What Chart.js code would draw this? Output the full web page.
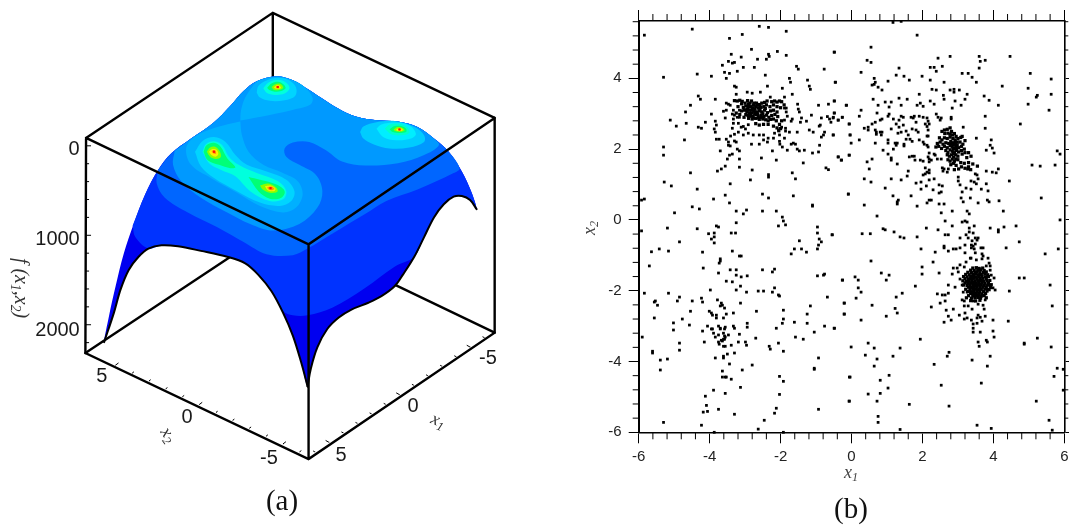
<!DOCTYPE html>
<html>
<head>
<meta charset="utf-8">
<title>Surface and sample points</title>
<script src="https://cdn.jsdelivr.net/npm/chart.js@4"></script>
<style>
    html, body { margin: 0; padding: 0; background: #fff; overflow: hidden; }
    canvas { position: absolute; top: 0; }
    #surfaceChart { left: 0; }
    #scatterChart { left: 560px; }
</style>
</head>
<body>
<canvas id="surfaceChart" width="520" height="529"></canvas>
<canvas id="scatterChart" width="509" height="529"></canvas>
<script>
// ---- panel (a): outlines, in projection-plane units ----
const rightEdge = [[830,220],[880,232],[930,262],[980,295],[1030,325],[1080,345],[1130,353],[1200,358],[1260,375],[1310,410],[1355,450],[1395,510],[1425,575],[1440,625]];
const frontRightCurve = [[1440,625],[1420,597],[1395,585],[1370,587],[1340,610],[1310,650],[1280,710],[1250,770],[1215,825],[1190,860],[1150,890],[1110,910],[1060,930],[1020,955],[985,990],[955,1045],[935,1110],[925,1165]];
const frontLeftCurve = [[925,1165],[905,1090],[880,1010],[850,940],[815,875],[775,825],[735,790],[680,770],[600,752],[530,738],[480,735],[440,745],[410,770],[380,810],[355,870],[335,940],[305,1030]];
const leftEdge = [[305,1030],[320,950],[340,860],[365,760],[395,670],[430,580],[470,505],[510,455],[570,410],[640,360],[690,310],[730,265],[770,235],[830,220]];

const band1 = [[392,675],[400,710],[440,745],[480,735],[530,738],[600,752],[680,770],[735,790],[775,825],[815,875],[850,935],[880,948],[925,948],[1000,925],[1100,865],[1190,800],[1250,770],[1280,710],[1310,650],[1340,610],[1370,587],[1395,585],[1420,597],[1440,625],[1425,575],[1395,510],[1355,450],[1310,410],[1260,375],[1200,358],[1130,353],[1080,345],[1030,325],[980,295],[930,262],[880,232],[830,220],[770,235],[730,265],[690,310],[640,360],[570,410],[510,455],[470,505],[430,580],[392,675]];
const band2 = [[470,505],[465,545],[490,590],[560,635],[650,680],[730,725],[800,762],[880,765],[925,745],[1000,700],[1100,640],[1165,600],[1260,565],[1370,515],[1388,500],[1355,450],[1310,410],[1260,375],[1200,358],[1130,353],[1080,345],[1030,325],[980,295],[930,262],[880,232],[830,220],[770,235],[730,265],[690,310],[640,360],[570,410],[510,455],[470,505]];
const band3 = [[520,448],[515,490],[540,540],[600,590],[680,635],[750,670],[820,690],[900,670],[955,620],[970,570],[950,520],[900,490],[860,465],[855,440],[880,422],[930,420],[980,445],[1030,480],[1100,492],[1200,485],[1280,460],[1325,430],[1310,410],[1260,375],[1200,358],[1130,353],[1080,345],[1030,325],[980,295],[930,262],[880,232],[830,220],[770,235],[730,265],[690,310],[640,360],[570,410],[520,448]];

const topLobe4 = [[720,355],[722,325],[735,285],[770,237],[790,229],[835,222],[880,232],[915,252],[940,285],[935,305],[890,320],[810,338],[720,355]];
const topLobe5 = [[770,270],[775,250],[800,233],[835,225],[870,233],[890,255],[887,280],[855,293],[810,295],[780,285],[770,270]];
const topLobe6 = [[790,257],[805,240],[835,231],[860,240],[870,257],[855,273],[825,277],[800,270],[790,257]];
const topLobe7 = [[802,255],[815,242],[835,237],[852,245],[858,257],[845,265],[825,267],[808,262],[802,255]];
const topLobe8 = [[815,253],[825,245],[838,242],[848,248],[850,257],[838,262],[822,261],[815,253]];
const topLobe9 = [[823,253],[833,247],[842,251],[843,257],[833,259],[825,257],[823,253]];
const topLobe10 = [[828,253],[835,250],[839,253],[835,256],[828,253]];

const leftLobe4 = [[720,358],[650,375],[580,405],[555,440],[570,490],[630,530],[710,575],[780,615],[850,635],[890,620],[910,580],[895,540],[850,515],[790,490],[745,450],[725,400],[720,358]];
const leftLobe5 = [[582,450],[605,417],[640,405],[675,420],[705,460],[740,490],[800,510],[860,535],[885,570],[875,600],[840,615],[780,605],[710,570],[640,530],[600,495],[582,450]];
const leftLobe6 = [[605,450],[615,427],[640,418],[665,430],[685,465],[715,490],[770,515],[835,540],[860,570],[850,595],[810,600],[750,570],[705,525],[660,505],[625,485],[605,450]];
const leftPeak7 = [[608,450],[617,430],[640,423],[660,435],[680,470],[705,497],[690,500],[655,490],[620,475],[608,450]];
const leftPeak8 = [[618,450],[628,437],[643,435],[658,450],[660,467],[645,472],[628,465],[618,450]];
const leftPeak9 = [[625,450],[635,442],[648,445],[653,457],[645,465],[632,460],[625,450]];
const leftPeak10 = [[632,448],[640,445],[646,451],[645,457],[637,455],[632,448]];
const lowPeak7 = [[745,527],[780,535],[830,550],[855,570],[845,590],[810,593],[775,570],[745,527]];
const lowPeak8 = [[780,553],[805,547],[830,560],[833,572],[810,575],[788,565],[780,553]];
const lowPeak9 = [[795,555],[812,553],[827,562],[823,570],[805,568],[795,555]];
const lowPeak10 = [[802,558],[815,556],[824,563],[817,567],[805,564],[802,558]];

const rightLobe4 = [[1085,390],[1095,373],[1135,360],[1195,357],[1255,377],[1280,400],[1280,420],[1235,437],[1175,440],[1125,427],[1095,410],[1085,390]];
const rightLobe5 = [[1135,380],[1150,367],[1195,361],[1235,370],[1255,395],[1240,410],[1195,415],[1155,405],[1135,380]];
const rightLobe6 = [[1160,380],[1175,367],[1205,365],[1230,377],[1235,393],[1210,400],[1180,397],[1160,380]];
const rightLobe7 = [[1175,382],[1190,372],[1210,372],[1225,380],[1225,390],[1205,393],[1185,390],[1175,382]];
const rightLobe8 = [[1187,382],[1200,375],[1215,378],[1220,385],[1205,389],[1192,387],[1187,382]];
const rightLobe9 = [[1195,382],[1205,378],[1215,382],[1210,387],[1197,386],[1195,382]];
const rightLobe10 = [[1200,382],[1207,380],[1211,383],[1205,385],[1200,382]];
const peakCentres = [[834,253],[640,450],[812,561],[1205,382]];

// box corners on the projection plane
const boxBackEdges = [[[250,408],[819,27],[1495,347]], [[819,27],[819,225]], [[248,1063],[690,770]], [[1495,1001],[1190,855]]];
const boxFrontEdges = [[[250,408],[928,732],[1495,347]], [[250,408],[248,1063],[928,1386],[1495,1001],[1495,347]], [[928,732],[928,1386]]];

const fTicks = [0,200,400,600,800,1000,1200,1400,1600,1800,2000,2200];
const x2Ticks = [5,4,3,2,1,0,-1,-2,-3,-4,-5,-6];
const x1Ticks = [6,5,4,3,2,1,0,-1,-2,-3,-4,-5,-6];

const upperLeft = [[-5.84,5.22],[-4.49,5.39],[-2.6,5.47],[-2.34,5.44],[-1.84,5.33],[-3.44,5.13],[-3.08,5.24],[-2.82,4.82],[-2.09,4.76],[-3.39,4.68],[-3.11,4.6],[-2.34,4.68],[-2.32,4.62],[-1.84,4.65],[-2.65,4.54],[-2.4,4.54],[-3.47,4.48],[-3.36,4.43],[-3.3,4.45],[-3.64,4.37],[-3.05,4.31],[-2.74,4.31],[-0.48,4.74],[-1.55,4.34],[-1.5,4.26],[-0.77,4.26],[-3.58,4.17],[-3.44,4.14],[-3.22,4.2],[-4.35,4.12],[-3.95,4.06],[-5.3,4.03],[-3.53,4],[-2.43,4.09],[-1.75,4],[-1.72,3.89],[-1.24,3.95],[-0.45,3.89],[-1.19,3.78],[-1.16,3.69],[-3.3,3.78],[-3.25,3.75],[-2.37,3.78],[-1.95,3.72],[-3.25,3.55],[-2.94,3.61],[-2.8,3.58],[-2.57,3.61],[-1.67,3.55],[-4.32,3.5],[-4.26,3.41],[-3.84,3.41],[-1.89,3.47],[-2.29,3.47],[-0.48,3.36],[-4.54,3.24],[-0.93,3.24],[-0.65,3.27],[-0.14,3.24],[-1.52,3.27],[-1.5,3.13],[-1.47,3.05],[-4.68,3.05],[-3.95,2.99],[-3.61,3.07],[-3.53,3.1],[-0.48,3.02],[-1.13,2.96],[-5.11,2.82],[-4.66,2.73],[-4.94,2.65],[-4.32,2.62],[-4.23,2.59],[-4.12,2.76],[-3.84,2.79],[-3.81,2.68],[-3.87,2.57],[-3.84,2.48],[-4.71,2.26],[-3.81,2.28],[-3.73,2.28],[-5.3,2.06],[-5.3,1.83],[-3.7,1.95],[-3.53,2.28],[-3.47,2.2],[-3.47,2.11],[-3.42,2.09],[-3.3,2.23],[-3.25,2.2],[-3.22,2],[-3.16,1.95],[-3.44,1.83],[-3.36,1.86],[-3.5,1.72],[-3.16,1.72],[-2.54,1.75],[-2.12,1.69],[-1.36,1.61],[-3.56,1.52],[-3.16,1.49],[-3.67,1.44],[-3.78,1.38],[-4.54,1.33],[-2.8,1.41],[-2.34,1.28],[-2.34,1.21],[-2.85,1.13],[-1.67,1.33],[-1.58,1.16],[-5.28,1.07],[-5.08,0.96],[-3.42,1.02],[-4.35,0.87],[-3.56,0.7],[-2.51,0.73],[-2.34,0.62],[-1.64,0.68],[-3.89,0.59],[-0.09,0.73],[-5.92,0.56],[-5.84,0.59],[-3.44,0.48],[-4.49,0.37],[-4.29,0.31],[-1.1,0.42],[-1.1,0.39],[-4.99,0.2],[-3.25,0.25],[-3.05,0.17],[-2.96,0.28],[-2.51,0.25],[-2.12,0.25],[-1.95,0.08],[-1.92,-0.03],[-1.86,-0.14],[-2.06,-0.17],[-3.25,-0.08],[-3.81,-0.17],[-3.75,-0.2],[-5.19,-0.23],[-4.35,-0.25],[-5.92,-0.31],[-0.96,-0.2],[-0.96,-0.37],[-3.39,-0.37],[-3.27,-0.37],[-4.03,-0.39],[-3.87,-0.37],[-3.87,-0.48],[-3.95,-0.54],[-0.91,-0.54],[-0.54,-0.42]];
const upperLeftRing = [[-3.53,3.3],[-3.47,3.27],[-3.42,3.24],[-3.33,3.1],[-3.16,3.1],[-3.36,2.99],[-3.3,2.96],[-3.22,2.9],[-3.56,2.88],[-3.33,2.85],[-3.16,2.9],[-3.33,2.73],[-3.19,2.73],[-3.05,2.64],[-3.11,2.62],[-3.36,2.59],[-2.91,2.69],[-2.99,2.57],[-3.19,2.48],[-2.91,2.45],[-3.05,2.4],[-3.3,2.42],[-3.41,2.37],[-2.77,2.4],[-2.6,2.4],[-2.48,2.4],[-2.35,2.31],[-2.48,2.26],[-2.37,2.2],[-2.17,2.45],[-2.06,2.54],[-1.97,2.62],[-1.86,2.59],[-2.2,2.31],[-2.03,2.4],[-1.86,2.51],[-1.75,2.48],[-2.03,2.22],[-1.89,2.31],[-1.53,2.48],[-2.82,2.14],[-2.6,2.14],[-2.02,2.14],[-1.95,2.06],[-2.23,1.95],[-1.81,1.97],[-1.7,2.14],[-1.64,2.17],[-1.58,2.14],[-1.53,2],[-1.47,1.95],[-1.33,1.97],[-1.1,1.89],[-0.93,1.92],[-0.9,2.11],[-0.51,2.4],[-0.79,2.4],[-0.85,2.34],[-0.76,2.48],[-1.19,2.54],[-1.08,2.48],[-0.88,2.68],[-0.91,2.65],[-0.85,2.88],[-0.68,2.92],[-0.62,2.85],[-0.51,2.9],[-0.37,2.82],[-0.26,2.9],[-0.06,2.71],[-1.41,2.88],[-1.27,2.79],[-1.44,2.76],[-1.7,2.79],[-1.67,2.85],[-1.89,2.82],[-1.84,3.05],[-1.81,2.93],[-1.89,3.16],[-1.84,3.16],[-0.72,1.47],[-0.65,1.42],[-0.37,1.78],[-0.28,1.69],[-0.06,1.83],[-0.04,2.4]];
const upperLeftCore = [[-3.3,3.37],[-3.22,3.36],[-3.15,3.38],[-3.08,3.35],[-3,3.3],[-2.93,3.37],[-2.9,3.28],[-2.82,3.36],[-2.76,3.25],[-2.68,3.3],[-2.6,3.26],[-2.53,3.3],[-2.45,3.32],[-2.38,3.36],[-2.25,3.34],[-2.17,3.36],[-2.1,3.33],[-2.03,3.36],[-1.97,3.34],[-3.05,3.18],[-2.98,3.22],[-2.92,3.16],[-2.85,3.2],[-2.78,3.17],[-2.7,3.2],[-2.62,3.16],[-2.55,3.18],[-2.47,3.2],[-2.4,3.25],[-2.3,3.2],[-2.2,3.25],[-2.1,3.2],[-2,3.17],[-1.9,3.25],[-3.1,3.08],[-3.02,3.1],[-2.95,3.05],[-2.88,3.1],[-2.82,3.03],[-2.75,3.08],[-2.68,3.05],[-2.6,3.08],[-2.53,3.05],[-2.45,3.1],[-2.37,3.03],[-2.28,3.08],[-2.2,3.1],[-2.1,3.05],[-2.98,2.98],[-2.92,2.95],[-2.85,2.98],[-2.78,2.93],[-2.7,2.98],[-2.63,2.93],[-2.55,2.96],[-2.47,2.92],[-2.4,2.96],[-2.33,2.9],[-2.25,2.95],[-2.16,2.98],[-2.08,2.92],[-2.9,2.87],[-2.8,2.85],[-2.7,2.87],[-2.6,2.84],[-2.5,2.85],[-2.42,2.83],[-2.35,2.8],[-2.28,2.84],[-2.2,2.85],[-2.12,2.8],[-3.03,2.9],[-3.15,2.98],[-3.25,3.02],[-3.2,3.2],[-3.1,3.28],[-2.7,2.72],[-2.6,2.68],[-2.48,2.7],[-2.35,2.7],[-2.2,2.65],[-2.1,2.6],[-2.03,2.7],[-1.97,2.8],[-2.05,2.52],[-2,2.58],[-2.88,3.02],[-2.8,3.12],[-2.72,3.13],[-2.65,3],[-2.58,3.12],[-2.5,3],[-2.43,3.15],[-2.9,3.22],[-2.75,3.3],[-2.86,3.3],[-2.95,3.12],[-2.66,3.24],[-2.58,3.22],[-2.73,3.01],[-2.9,2.92],[-2.62,2.88],[-2.54,2.9],[-2.76,2.88],[-2.82,2.93]];
const upperRight = [[1.17,5.58],[1.4,5.61],[1.85,5.22],[0.55,4.88],[-0.49,4.74],[0.44,4.51],[0.55,4.45],[2.44,4.57],[2.78,4.62],[3.6,4.62],[3.63,4.48],[3.77,4.51],[4.47,4.62],[2.22,4.31],[2.33,4.31],[2.56,4.34],[1.34,4.29],[2.39,4.2],[3.6,4.29],[0.27,4.17],[3.12,4.14],[3.29,4.14],[5.04,4.14],[1.26,4.09],[1.48,4.06],[1.99,4.06],[3.4,4.03],[0.64,4],[1.63,3.95],[1.03,3.92],[2.22,3.95],[2.61,3.89],[3.52,3.89],[5.63,3.98],[-0.46,3.89],[0.67,3.89],[0.64,3.83],[0.58,3.81],[0.75,3.75],[0.86,3.67],[4.25,3.78],[4.98,3.72],[2.27,3.69],[2.39,3.67],[2.78,3.67],[2.89,3.69],[2.89,3.61],[3.04,3.67],[1.91,3.55],[2.59,3.52],[3.26,3.55],[5.63,3.55],[5.24,3.52],[5.21,3.47],[3.74,3.5],[3.88,3.38],[0.61,3.41],[1.34,3.44],[1.57,3.41],[2.61,3.41],[3.2,3.41],[2.92,3.36],[-0.49,3.36],[0.95,3.33],[1.12,3.33],[2.22,3.36],[2.33,3.27],[1.94,3.3],[1.85,3.24],[2.02,3.21],[0.75,3.24],[1.06,3.19],[1.4,3.24],[-0.15,3.24],[0.27,3.1],[3.09,3.24],[4.14,3.24],[4.98,3.27],[2.84,3.16],[5.57,3.1],[0.72,3.02],[1.06,2.99],[1.03,2.93],[-0.49,3.02],[-0.52,2.88],[-0.58,2.76],[-0.38,2.82],[-0.26,2.9],[0.22,2.93],[1.18,2.85],[1.34,2.82],[1.4,2.93],[1.46,2.9],[1.68,2.9],[1.74,2.88],[1.77,2.93],[1.91,2.93],[2.02,2.9],[2.13,2.88],[2.16,2.79],[0.81,2.82],[0.86,2.85],[0.67,2.76],[0.58,2.71],[-0.07,2.71],[1.26,2.71],[1.46,2.68],[1.82,2.76],[2.08,2.71],[2.19,2.71],[2.13,2.64],[2.39,2.99],[2.44,2.9],[2.53,2.88],[2.5,2.82],[2.81,2.9],[2.81,2.85],[3.77,2.93],[3.77,2.59],[4.76,2.71],[0.36,2.59],[0.47,2.62],[0.47,2.54],[0.67,2.54],[0.7,2.48],[0.81,2.48],[0.86,2.48],[0.84,2.4],[0.7,2.42],[1.12,2.57],[1.34,2.62],[1.31,2.45],[1.4,2.48],[1.54,2.51],[1.71,2.57],[1.82,2.54],[1.88,2.48],[1.6,2.4],[1.54,2.28],[1.65,2.28],[1.71,2.22],[-0.52,2.4],[-0.04,2.4],[-0.01,2.17],[0.22,2.26],[0.67,2.17],[1.03,2.26],[1.03,2.17],[1.23,2.17],[1.26,2.11],[1.29,2.17],[1.48,2.14],[1.48,2.09],[1.91,2.26],[2.02,2.2],[2.05,2.14],[2.13,2.37],[2.16,2.37],[2.16,2.54],[2.13,2.11],[2.16,2.06],[0.89,1.97],[1.03,1.86],[1.18,2],[1.12,1.75],[1.12,1.69],[1.29,1.58],[-0.38,1.78],[-0.29,1.69],[-0.07,1.83],[0.44,1.64],[0.58,1.72],[0.5,1.44],[1.63,1.78],[1.71,1.8],[1.77,1.8],[1.79,1.69],[1.94,1.69],[2.02,1.66],[2.19,1.89],[2.16,1.78],[2.19,1.72],[2.33,1.86],[2.36,1.83],[2.25,1.69],[2.19,1.64],[2.42,1.72],[2.53,1.72],[2.08,1.47],[2.19,1.41],[2.13,1.35],[2.19,1.33],[2.02,1.27],[2.08,1.3],[1.6,1.38],[1.57,1.24],[2.56,1.47],[2.58,1.38],[2.61,1.44],[2.7,1.35],[2.73,1.44],[0.36,1.16],[0.55,1.07],[1.12,1.16],[1.4,1.13],[2.19,1.13],[2.33,1.16],[1.82,1.04],[1.96,1.07],[2.11,0.96],[1.96,0.87],[2.47,0.99],[2.56,0.96],[2.3,0.85],[2.53,0.79],[2.47,0.76],[0.95,0.9],[-0.09,0.73],[1.17,0.68],[1.68,0.68],[1.32,0.56],[1.29,0.51],[1.29,0.45],[0.36,0.42],[1.85,0.39],[2.13,0.48],[2.19,0.56],[2.25,0.56],[2.47,0.45],[2.61,0.45],[2.53,0.2],[2.84,0.25],[0.72,0.11],[2.11,-0.23],[2.44,-0.28],[2.64,-0.03],[2.84,-0.17],[0.89,-0.25],[0.95,-0.28],[1.2,-0.34],[1.37,-0.48],[1.48,-0.51],[1.85,-0.48],[0.3,-0.39],[0.53,-0.39],[-0.55,-0.42],[2.64,-0.42],[2.73,-0.42],[3.06,-0.51],[3.01,1.21],[3.01,1.1],[3.06,0.99],[3.37,1.1],[3.46,1.07],[3.52,1.02],[3.57,1.16],[3.49,1.3],[3.54,1.27],[3.8,1.38],[3.97,1.35],[4.08,1.33],[4.14,1.44],[4.45,1.1],[3.8,1.02],[3.66,0.87],[3.85,0.82],[3.23,0.9],[3.37,0.87],[3.12,0.79],[3.09,0.62],[3.15,0.51],[3.35,0.62],[3.57,0.48],[3.83,0.56],[3.88,0.51],[4.16,0.54],[5.35,0.62],[3.26,0.25],[3.32,0.17],[4.28,0.25],[3.12,-0.06],[3.2,-0.03],[3.26,-0.06],[3.46,-0.17],[3.32,-0.23],[3.32,-0.34],[3.43,-0.37],[3.23,-0.42],[3.29,-0.51],[3.49,-0.51],[3.57,-0.51],[3.91,-0.23],[4.14,-0.28],[4.14,-0.34],[4.3,-0.2],[4.64,-0.17],[5.88,0],[5.09,1.55],[5.32,1.52],[5.74,1.55],[5.8,1.95],[5.88,1.86],[3.8,1.97],[3.91,2.11],[3.94,2.26],[3.97,2.03],[4.02,1.89],[3.52,2.31],[3.15,2.62]];
const upperRightCore = [[2.55,2.5],[2.62,2.54],[2.7,2.56],[2.78,2.6],[2.82,2.5],[2.72,2.45],[2.63,2.44],[2.9,2.44],[2.85,2.4],[2.78,2.42],[2.95,2.36],[2.48,2.32],[2.55,2.26],[2.62,2.32],[2.7,2.3],[2.78,2.34],[2.86,2.3],[2.92,2.26],[3,2.3],[3.08,2.33],[3.12,2.36],[2.42,2.16],[2.5,2.2],[2.58,2.14],[2.66,2.18],[2.74,2.16],[2.8,2.22],[2.86,2.18],[2.92,2.14],[2.98,2.2],[3.06,2.2],[3.14,2.14],[3.2,2.24],[2.38,2.06],[2.46,2.08],[2.54,2.02],[2.62,2.08],[2.7,2.04],[2.78,2.1],[2.84,2.06],[2.9,2.02],[2.96,2.08],[3.02,2.04],[3.1,2.08],[3.18,2],[2.66,1.96],[2.72,1.9],[2.78,1.98],[2.84,1.94],[2.9,1.9],[2.96,1.96],[3.02,1.92],[3.1,1.96],[3.2,1.9],[3.3,1.9],[3.37,1.8],[2.7,1.84],[2.76,1.8],[2.82,1.84],[2.88,1.78],[2.94,1.84],[3,1.8],[3.12,1.86],[3.25,1.76],[2.72,1.7],[2.78,1.66],[2.84,1.72],[2.9,1.66],[3,1.7],[3.08,1.62],[3.18,1.6],[3.3,1.62],[3.42,1.58],[3.55,1.52],[2.8,1.56],[2.88,1.6],[2.95,1.54],[3.1,1.5],[3.2,1.46],[3.28,1.44],[3.36,1.42],[3.3,1.5],[2.9,1.42],[3.02,1.44],[2.87,2.12],[2.93,2.2],[2.88,2],[2.94,2.05],[2.88,1.88],[2.94,1.72],[2.82,2.14],[2.98,2.12]];
const lowerLeft = [[-4.85,-0.62],[-3.87,-0.65],[-5.64,-0.9],[-5.42,-0.82],[-5.16,-0.88],[-4.2,-0.91],[-3.36,-0.88],[-3.16,-1.02],[-3.11,-1.02],[-3.7,-1.1],[-3.7,-1.16],[-3.73,-1.22],[-5.7,-1.3],[-4.18,-1.36],[-3.42,-1.41],[-3.25,-1.41],[-2.51,-1.41],[-2.17,-1.39],[-2.23,-1.47],[-3.75,-1.5],[-3.25,-1.56],[-3.11,-1.61],[-2.94,-1.58],[-3.53,-1.73],[-3.36,-1.75],[-3.13,-1.87],[-3.25,-1.98],[-2.96,-2.04],[-2.63,-2.01],[-2.48,-2.01],[-2.17,-1.92],[-2.23,-2.04],[-2.06,-2.12],[-2.03,-2.15],[-3.98,-1.98],[-5.84,-2.07],[-5.16,-2.07],[-4.85,-2.18],[-4.91,-2.29],[-4.49,-2.29],[-4.23,-2.21],[-4.2,-2.32],[-5.53,-2.29],[-5.56,-2.32],[-5.47,-2.41],[-3.78,-2.26],[-3.67,-2.35],[-3.64,-2.41],[-3.7,-2.43],[-3.58,-2.49],[-3.13,-2.35],[-4.54,-2.58],[-4.01,-2.58],[-3.95,-2.63],[-3.92,-2.69],[-3.81,-2.69],[-3.81,-2.77],[-3.53,-2.66],[-3.61,-2.77],[-3.33,-2.63],[-2.68,-2.58],[-1.92,-2.55],[-5.56,-2.77],[-4.77,-2.8],[-5.02,-2.91],[-5.02,-3.11],[-4.57,-2.97],[-1.92,-2.8],[-1.95,-2.92],[-2.12,-3.06],[-2.94,-2.92],[-2.94,-3.03],[-3.33,-3],[-3.3,-3.06],[-4.06,-3],[-3.95,-3.08],[-3.92,-3.08],[-4.2,-3.14],[-3.75,-3],[-3.7,-3.06],[-3.56,-3.03],[-3.58,-3.08],[-3.7,-3.08],[-3.89,-3.2],[-3.75,-3.25],[-3.84,-3.31],[-3.61,-3.2],[-3.58,-3.28],[-3.47,-3.25],[-3.67,-3.4],[-3.61,-3.37],[-3.56,-3.31],[-3.64,-3.42],[-3.75,-3.45],[-3.73,-3.51],[-3.58,-3.37],[-3.16,-3.23],[-5.9,-3.31],[-4.15,-3.45],[-3.19,-3.45],[-2.99,-3.45],[-2.96,-3.54],[-2.7,-3.34],[-4.85,-3.48],[-4.85,-3.68],[-3.61,-3.57],[-3.56,-3.57],[-3.39,-3.54],[-3.5,-3.79],[-5.61,-3.71],[-5.61,-3.76],[-2.32,-3.57],[-2.29,-3.65],[-2.06,-3.48],[-1.92,-3.71],[-3.3,-3.76],[-3.84,-3.9],[-3.61,-3.85],[-3.61,-3.9],[-5.39,-3.96],[-5.19,-3.93],[-5.39,-4.24],[-3.44,-4.07],[-2.8,-4.1],[-3.08,-4.24],[-3.64,-4.27],[-3.64,-4.44],[-3.56,-4.44],[-3.53,-4.44],[-3.39,-4.5],[-2.03,-4.42],[-1.92,-4.56],[-3.13,-4.73],[-3.89,-4.81],[-3.56,-4.9],[-4.12,-4.98],[-2.03,-4.93],[-4.09,-5.24],[-4.18,-5.43],[-4.06,-5.41],[-3.75,-5.35],[-3.3,-5.49],[-2.12,-5.32],[-2.17,-5.46],[-2.46,-5.66],[-5.3,-5.72],[-4.23,-5.8],[-2.63,-5.91],[-3.87,-6],[-1.92,-6],[-1.61,-0.82],[-1.7,-0.96],[-1.47,-0.59],[-1.41,-0.82],[-1.27,-0.91],[-0.85,-0.62],[-0.93,-0.71],[-0.96,-0.82],[-0.96,-1.58],[-0.79,-1.56],[-0.76,-1.53],[-0.25,-1.7],[-0.68,-2.18],[-0.2,-2.35],[-0.2,-2.66],[-1.16,-2.43],[-1.25,-2.66],[-1.61,-2.89],[-1.25,-2.92],[-0.76,-3],[-0.48,-3.06],[-1.05,-3.17],[-1.58,-3.31],[-1.36,-3.37],[-0.93,-3.9],[-1.05,-4.19],[-1.05,-4.22],[-0.93,-5.35],[-0.06,-4.44],[-0.06,-5.12]];
const lowerRight = [[1.96,-0.82],[2.36,-0.91],[2.61,-0.74],[2.61,-0.79],[2.73,-0.88],[2.87,-0.82],[2.95,-0.82],[3.06,-0.79],[3.2,-0.71],[3.2,-0.93],[3.35,-1.08],[3.38,-0.71],[3.43,-0.74],[3.49,-0.68],[3.38,-0.79],[3.49,-0.93],[3.68,-0.96],[3.71,-1.02],[3.65,-0.79],[3.71,-0.79],[3.54,-0.57],[3.4,-0.59],[3.46,-0.82],[4.36,-0.79],[4.73,-0.62],[5.46,-0.96],[5.83,-0.82],[0.55,-1.16],[2.3,-1.19],[1.99,-1.33],[1.99,-1.53],[2.47,-1.5],[0.84,-1.5],[1.06,-1.56],[0.98,-1.7],[0.1,-1.61],[0.19,-1.7],[-0.26,-1.7],[0.19,-1.92],[0.27,-2.04],[0.13,-2.21],[1.43,-2.07],[1.26,-2.18],[1.8,-1.87],[-0.21,-2.35],[-0.21,-2.66],[0.58,-2.41],[0.27,-2.83],[-0.49,-3.06],[1.23,-2.5],[1.29,-2.63],[0.98,-2.72],[2.25,-2.46],[2.42,-2.09],[2.56,-2.12],[2.64,-2.12],[2.73,-2.07],[2.73,-1.84],[2.5,-2.35],[2.64,-2.29],[2.67,-2.55],[2.87,-2.52],[2.73,-2.72],[2.81,-2.83],[2.61,-2.89],[3.04,-2.69],[3.2,-2.63],[3.18,-2.8],[3.26,-2.77],[3.38,-2.83],[3.43,-2.94],[3.43,-3.06],[3.43,-3.17],[3.63,-3.17],[3.54,-2.92],[3.68,-2.86],[3.54,-2.77],[3.57,-2.69],[3.63,-2.75],[3.77,-2.72],[3.99,-2.83],[4.42,-2.86],[3.99,-3.14],[4.02,-3.31],[3.8,-3.4],[3.83,-3.45],[3.57,-3.45],[3.6,-3.57],[4.05,-1.98],[4.45,-2.01],[4.73,-1.64],[4.87,-1.64],[5.6,-1.84],[5.66,-2.43],[1.94,-3.37],[5.24,-3.34],[5.63,-3.59],[4.87,-3.48],[4.87,-3.51],[-0.01,-3.59],[0.47,-3.48],[0.64,-3.62],[1.37,-3.62],[0.39,-3.82],[0.72,-3.93],[0.64,-4.13],[1.17,-3.85],[2.75,-3.74],[2.7,-3.85],[2.33,-4.08],[3.4,-3.96],[3.91,-3.85],[3.83,-4.13],[-0.04,-4.44],[1.06,-4.39],[0.81,-4.53],[1.03,-4.75],[0.81,-4.9],[0.47,-4.92],[2.53,-4.67],[3.66,-4.61],[-0.07,-5.12],[0.72,-5.12],[1.63,-5.21],[2.75,-5.26],[5.21,-5.12],[0.75,-5.55],[0.75,-5.72],[1.37,-5.92],[3.54,-5.8],[3.94,-5.89],[5.57,-5.66],[5.66,-5.94],[5.8,-4.19],[5.97,-4.22],[5.71,-4.42],[5.97,-4.81],[2.87,-1.36],[2.98,-1.36],[3.06,-1.27],[3.01,-1.47],[2.84,-1.53],[3.18,-1.33],[3.23,-1.19],[3.37,-1.08],[3.52,-1.13],[3.68,-1.1],[3.85,-1.08],[3.88,-1.22],[3.8,-1.3],[3.91,-1.3],[3.91,-1.42],[3.94,-1.56],[4.02,-1.64],[3.88,-1.84],[3.99,-1.92],[3.83,-1.95],[2.92,-1.9],[3.06,-1.67],[3.12,-1.84],[3.15,-2.04],[3.26,-2.04],[3.12,-2.26],[3.18,-2.29],[3.18,-2.43],[3.29,-2.43],[3.4,-2.52],[3.57,-2.38],[3.71,-2.41],[3.77,-2.26],[3.74,-2.52],[3.43,-2.29]];
const lowerRightCore = [[3.42,-1.36],[3.52,-1.35],[3.6,-1.37],[3.7,-1.36],[3.36,-1.42],[3.46,-1.43],[3.56,-1.42],[3.64,-1.41],[3.74,-1.43],[3.28,-1.48],[3.38,-1.49],[3.48,-1.48],[3.54,-1.47],[3.62,-1.49],[3.72,-1.48],[3.8,-1.47],[3.22,-1.54],[3.32,-1.55],[3.42,-1.54],[3.5,-1.53],[3.58,-1.55],[3.66,-1.54],[3.76,-1.53],[3.84,-1.55],[3.16,-1.6],[3.26,-1.61],[3.36,-1.6],[3.44,-1.59],[3.52,-1.61],[3.6,-1.6],[3.68,-1.59],[3.78,-1.61],[3.86,-1.6],[3.2,-1.66],[3.3,-1.67],[3.38,-1.66],[3.46,-1.65],[3.54,-1.67],[3.62,-1.66],[3.7,-1.65],[3.8,-1.67],[3.14,-1.72],[3.24,-1.73],[3.32,-1.72],[3.4,-1.71],[3.48,-1.73],[3.56,-1.72],[3.64,-1.71],[3.72,-1.73],[3.82,-1.72],[3.9,-1.71],[3.2,-1.78],[3.28,-1.79],[3.36,-1.78],[3.44,-1.77],[3.52,-1.79],[3.6,-1.78],[3.68,-1.77],[3.76,-1.79],[3.86,-1.78],[3.16,-1.84],[3.26,-1.85],[3.34,-1.84],[3.42,-1.83],[3.5,-1.85],[3.58,-1.84],[3.66,-1.83],[3.74,-1.85],[3.84,-1.84],[3.94,-1.83],[3.3,-1.9],[3.38,-1.91],[3.46,-1.9],[3.54,-1.89],[3.62,-1.91],[3.7,-1.9],[3.8,-1.89],[3.92,-1.91],[3.22,-1.96],[3.34,-1.97],[3.42,-1.96],[3.5,-1.95],[3.58,-1.97],[3.66,-1.96],[3.76,-1.95],[3.88,-1.97],[3.3,-2.02],[3.38,-2.03],[3.46,-2.02],[3.54,-2.01],[3.62,-2.03],[3.72,-2.02],[3.82,-2.01],[3.36,-2.08],[3.44,-2.09],[3.52,-2.08],[3.6,-2.07],[3.68,-2.09],[3.78,-2.08],[3.3,-2.14],[3.42,-2.15],[3.5,-2.14],[3.58,-2.13],[3.66,-2.15],[3.74,-2.14],[3.24,-2.2],[3.38,-2.21],[3.48,-2.2],[3.56,-2.19],[3.64,-2.21],[3.8,-2.2],[3.36,-2.28],[3.5,-2.29],[3.62,-2.27]];

const xMajor = [-6,-4,-2,0,2,4,6];
const yMajor = [-6,-4,-2,0,2,4];
const minorSteps = [0.4,0.8,1.2,1.6];

const SANS = '"Liberation Sans", Arial, sans-serif';
const SERIF = '"Liberation Serif", "Times New Roman", serif';

function toPoints(pairs) {
    return pairs.map(p => ({ x: p[0], y: p[1] }));
}

// Several polylines in one dataset, split by NaN gaps
function joinPaths(paths) {
    const pts = [];
    paths.forEach(path => {
        path.forEach(p => pts.push({ x: p[0], y: p[1] }));
        pts.push({ x: NaN, y: NaN });
    });
    return pts;
}

function area(pairs, color) {
    return { data: toPoints(pairs), showLine: true, fill: 'shape', backgroundColor: color, borderWidth: 0, pointRadius: 0, tension: 0.35, clip: false };
}

function stroke(pts, width, tension) {
    return { data: pts, showLine: true, fill: false, borderColor: '#000', borderWidth: width, pointRadius: 0, tension: tension || 0, clip: false, spanGaps: false, borderCapStyle: 'round' };
}

// Draws a text made of runs, some of them lowered and smaller (subscripts)
function drawRuns(ctx, cx, cy, runs, size, angle, color) {
    ctx.save();
    ctx.translate(cx, cy);
    ctx.rotate((angle || 0) * Math.PI / 180);
    ctx.fillStyle = color || '#222';
    ctx.textBaseline = 'middle';
    ctx.textAlign = 'left';
    const fontFor = r => 'italic ' + (r.sub ? size * 0.68 : size) + 'px ' + SERIF;
    let width = 0;
    runs.forEach(r => { ctx.font = fontFor(r); width += ctx.measureText(r.t).width; });
    let x = -width / 2;
    runs.forEach(r => {
        ctx.font = fontFor(r);
        ctx.fillText(r.t, x, r.sub ? size * 0.28 : 0);
        x += ctx.measureText(r.t).width;
    });
    ctx.restore();
}

function drawPlain(ctx, text, x, y, font, color) {
    ctx.save();
    ctx.font = font;
    ctx.fillStyle = color || '#222';
    ctx.textAlign = 'center';
    ctx.textBaseline = 'middle';
    ctx.fillText(text, x, y);
    ctx.restore();
}

// ---- panel (a) ----
function fTickPath(v) {
    const y = 432 + v * 0.2725;
    const len = v % 1000 === 0 ? 14 : 8;
    return [[250, y], [250 + len, y]];
}

function x2TickPath(v) {
    const x = 595 - v * 51, y = 1220 - v * 24;
    return v % 5 === 0 ? [[x, y], [x + 8, y - 6]] : [[x, y], [x + 4, y - 3]];
}

function x1TickPath(v) {
    const x = 1205 - v * 43, y = 1190 + v * 29;
    return v % 5 === 0 ? [[x, y], [x - 9, y - 5]] : [[x, y], [x - 4, y - 2]];
}

const surfaceDatasets = [
    stroke(joinPaths(boxBackEdges), 2.4),
    area(rightEdge.concat(frontRightCurve.slice(1), frontLeftCurve.slice(1), leftEdge.slice(1)), '#0000f0'),
    area(band1, '#0033ff'),
    area(band2, '#0066ff'),
    area(band3, '#0099ff'),
    area(topLobe4, '#00b0ff'),
    area(leftLobe4, '#00b0ff'),
    area(rightLobe4, '#00ccff'),
    area(topLobe5, '#00d4ff'),
    area(leftLobe5, '#00d4ff'),
    area(rightLobe5, '#00eeff'),
    area(topLobe6, '#00ffdd'),
    area(leftLobe6, '#00ffdd'),
    area(rightLobe6, '#00ffcc'),
    area(topLobe7, '#00ff77'),
    area(leftPeak7, '#00ff77'),
    area(lowPeak7, '#00ff77'),
    area(rightLobe7, '#00ff77'),
    area(topLobe8, '#88ff00'),
    area(leftPeak8, '#88ff00'),
    area(lowPeak8, '#88ff00'),
    area(rightLobe8, '#88ff00'),
    area(topLobe9, '#ffee00'),
    area(leftPeak9, '#ffee00'),
    area(lowPeak9, '#ffee00'),
    area(rightLobe9, '#ffee00'),
    area(topLobe10, '#ff9900'),
    area(leftPeak10, '#ff9900'),
    area(lowPeak10, '#ff9900'),
    area(rightLobe10, '#ff9900'),
    { data: toPoints(peakCentres), showLine: false, pointStyle: 'rect', pointRadius: 1.6, backgroundColor: '#ff1100', borderWidth: 0 },
    stroke(toPoints(frontRightCurve), 2, 0.35),
    stroke(toPoints(frontLeftCurve), 2, 0.35),
    stroke(joinPaths(boxFrontEdges), 2.4),
    stroke(joinPaths(fTicks.map(fTickPath)), 1),
    stroke(joinPaths(x2Ticks.map(x2TickPath)), 1),
    stroke(joinPaths(x1Ticks.map(x1TickPath)), 1)
];
// later datasets go on top
surfaceDatasets.forEach((d, i) => { d.order = surfaceDatasets.length - i; });

const surfaceLabels = {
    id: 'surfaceLabels',
    afterDatasetsDraw(chart) {
        const ctx = chart.ctx;
        const tickFont = '20px ' + SANS;
        [['0', 74, 149], ['1000', 57.5, 239], ['2000', 57.5, 330], ['5', 101.7, 376.7], ['0', 187, 417], ['-5', 269, 458], ['5', 341, 455.7], ['0', 413, 406.7], ['-5', 488, 358]]
            .forEach(t => drawPlain(ctx, t[0], t[1], t[2], tickFont, '#1a1a1a'));
        drawRuns(ctx, 168, 435, [{ t: 'x' }, { t: '2', sub: true }], 18, 55, '#333');
        drawRuns(ctx, 438, 421, [{ t: 'x' }, { t: '1', sub: true }], 18, 22, '#333');
        drawRuns(ctx, 20, 288, [{ t: 'f (x' }, { t: '1', sub: true }, { t: ',x' }, { t: '2', sub: true }, { t: ')' }], 20, 90, '#333');
        drawPlain(ctx, '(a)', 282, 502, '29px ' + SERIF, '#111');
    }
};

new Chart(document.getElementById('surfaceChart'), {
    type: 'scatter',
    data: { datasets: surfaceDatasets },
    plugins: [surfaceLabels],
    options: {
        responsive: false,
        animation: false,
        layout: { padding: 0 },
        plugins: { legend: { display: false }, tooltip: { enabled: false } },
        scales: {
            x: { type: 'linear', display: false, min: 0, max: 1560 },
            y: { type: 'linear', display: false, min: 0, max: 1587, reverse: true }
        }
    }
});

// ---- panel (b) ----
const scatterFrame = {
    id: 'scatterFrame',
    afterDatasetsDraw(chart) {
        const ctx = chart.ctx;
        const { x, y } = chart.scales;
        const { left, right, top, bottom } = chart.chartArea;
        ctx.save();
        ctx.strokeStyle = '#000';
        ctx.lineWidth = 1;
        ctx.beginPath();
        xMajor.slice(0, -1).forEach(v => minorSteps.forEach(s => {
            const px = x.getPixelForValue(v + s);
            ctx.moveTo(px, bottom); ctx.lineTo(px, bottom + 7);
            ctx.moveTo(px, top); ctx.lineTo(px, top - 7);
        }));
        yMajor.forEach(v => minorSteps.forEach(s => {
            if (v + s > y.max) return;
            const py = y.getPixelForValue(v + s);
            ctx.moveTo(left, py); ctx.lineTo(left - 6, py);
            ctx.moveTo(right, py); ctx.lineTo(right + 4, py);
        }));
        ctx.stroke();
        ctx.restore();
        drawRuns(ctx, 291, 473, [{ t: 'x' }, { t: '1', sub: true }], 18, 0, '#444');
        drawRuns(ctx, 30, 228, [{ t: 'x' }, { t: '2', sub: true }], 18, -90, '#444');
        drawPlain(ctx, '(b)', 291, 510, '29px ' + SERIF, '#111');
    }
};

// Pins an axis to a fixed thickness and drops the room Chart.js keeps for end labels
function fixedSize(prop, value) {
    return scale => {
        scale[prop] = value;
        scale.paddingLeft = scale.paddingRight = scale.paddingTop = scale.paddingBottom = 0;
    };
}

function useTicks(values) {
    return scale => { scale.ticks = values.map(v => ({ value: v })); };
}

function axisOptions(extra, tickLength, width) {
    return Object.assign({
        type: 'linear',
        border: { display: true, color: '#000', width: width },
        grid: { drawOnChartArea: false, drawTicks: true, tickLength: tickLength, tickColor: '#000', tickWidth: 1 }
    }, extra);
}

const sparsePoints = [upperLeft, upperLeftRing, upperRight, lowerLeft, lowerRight];
const corePoints = [upperLeftCore, upperRightCore, lowerRightCore];

function pointSet(pairs, radius) {
    return { data: toPoints(pairs), pointStyle: 'rect', pointRadius: radius, pointHoverRadius: radius, backgroundColor: '#000', borderWidth: 0, clip: false };
}

new Chart(document.getElementById('scatterChart'), {
    type: 'scatter',
    data: { datasets: sparsePoints.map(p => pointSet(p, 1.95)).concat(corePoints.map(p => pointSet(p, 2.3))) },
    plugins: [scatterFrame],
    options: {
        responsive: false,
        animation: false,
        layout: { padding: 0 },
        plugins: { legend: { display: false }, tooltip: { enabled: false } },
        scales: {
            x: axisOptions({
                position: 'bottom', min: -6, max: 6,
                afterBuildTicks: useTicks(xMajor), afterFit: fixedSize('height', 96.7),
                ticks: { padding: 5, maxRotation: 0, autoSkip: false, color: '#222', font: { family: SANS, size: 15 } }
            }, 11, 1.6),
            y: axisOptions({
                position: 'left', min: -6, max: 5.62,
                afterBuildTicks: useTicks(yMajor), afterFit: fixedSize('width', 78.7),
                ticks: { padding: 7, autoSkip: false, color: '#222', font: { family: SANS, size: 15 } }
            }, 10, 2),
            xTop: axisOptions({
                axis: 'x', position: 'top', min: -6, max: 6,
                afterBuildTicks: useTicks(xMajor), afterFit: fixedSize('height', 21),
                ticks: { display: false }
            }, 11, 1.6),
            yRight: axisOptions({
                axis: 'y', position: 'right', min: -6, max: 5.62,
                afterBuildTicks: useTicks(yMajor), afterFit: fixedSize('width', 4.7),
                ticks: { display: false }
            }, 5, 1.6)
        }
    }
});
</script>
</body>
</html>
